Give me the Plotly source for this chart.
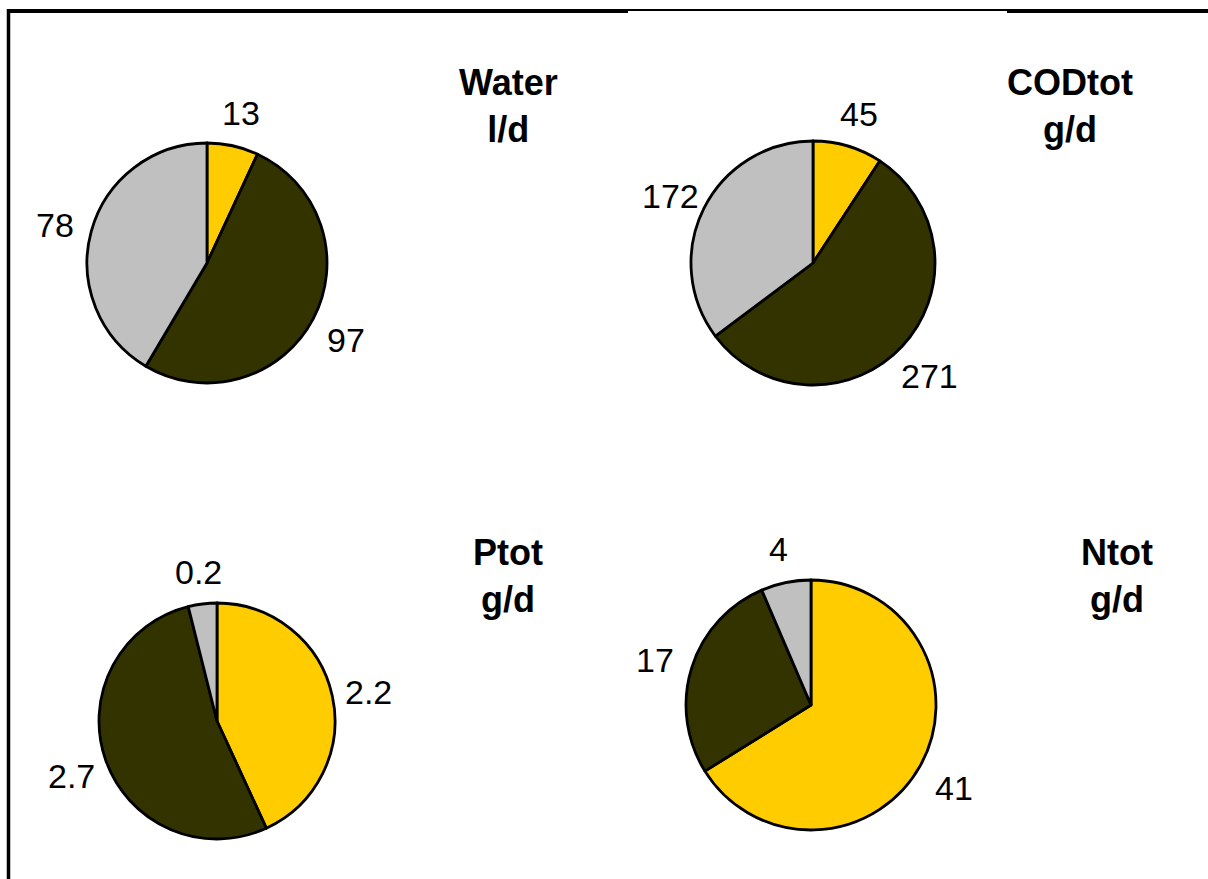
import math
import plotly.graph_objects as go

W, H = 1208, 879

# Flow fractions per parameter: yellow, dark olive, grey
water_vals = [13, 97, 78]
cod_vals = [45, 271, 172]
ptot_vals = [2.2, 2.7, 0.2]
ntot_vals = [41, 17, 4]
value_labels = {
    "water": ["13", "97", "78"],
    "cod": ["45", "271", "172"],
    "ptot": ["2.2", "2.7", "0.2"],
    "ntot": ["41", "17", "4"],
}
titles = {
    "water": "Water<br>l/d",
    "cod": "CODtot<br>g/d",
    "ptot": "Ptot<br>g/d",
    "ntot": "Ntot<br>g/d",
}
colors = ["#FFCC00", "#333300", "#C0C0C0"]

# pie layout: centre (px), radius (px), title centre (px)
panels = [
    ("water", water_vals, (207, 263), 120, (508, 106)),
    ("cod", cod_vals, (813, 263), 122, (1070, 106)),
    ("ptot", ptot_vals, (217, 721), 118, (508, 576)),
    ("ntot", ntot_vals, (811, 705), 125, (1117, 576)),
]

fig = go.Figure()
annotations = []
for key, vals, (cx, cy), r, (tx, ty) in panels:
    fig.add_trace(go.Pie(
        values=vals,
        sort=False,
        direction="clockwise",
        rotation=0,
        textinfo="none",
        hoverinfo="value",
        showlegend=False,
        marker=dict(colors=colors, line=dict(color="black", width=2.8)),
        domain=dict(x=[(cx - r) / W, (cx + r) / W],
                    y=[1 - (cy + r) / H, 1 - (cy - r) / H]),
    ))
    total = sum(vals)
    start = 0.0
    for v, lab in zip(vals, value_labels[key]):
        mid = start + v / total * 360 / 2
        start += v / total * 360
        a = math.radians(mid)
        lx = cx + 1.31 * r * math.sin(a)
        ly = cy - 1.31 * r * math.cos(a) + 4
        annotations.append(dict(
            x=lx / W, y=1 - ly / H, xref="paper", yref="paper",
            text=lab, showarrow=False, xanchor="center", yanchor="middle",
            font=dict(family="Liberation Sans, Arial", size=34, color="black"),
        ))
    annotations.append(dict(
        x=tx / W, y=1 - ty / H, xref="paper", yref="paper",
        text="<b>" + titles[key] + "</b>", showarrow=False,
        xanchor="center", yanchor="middle", align="center",
        font=dict(family="Liberation Sans, Arial", size=36, color="black"),
    ))

# frame lines
shapes = [
    dict(type="line", xref="paper", yref="paper", x0=8.5 / W, x1=8.5 / W,
         y0=0, y1=1 - 9 / H, line=dict(color="black", width=3.5)),
    dict(type="line", xref="paper", yref="paper", x0=7 / W, x1=628 / W,
         y0=1 - 11 / H, y1=1 - 11 / H, line=dict(color="black", width=4)),
    dict(type="line", xref="paper", yref="paper", x0=628 / W, x1=1007 / W,
         y0=1 - 10 / H, y1=1 - 10 / H, line=dict(color="black", width=2)),
    dict(type="line", xref="paper", yref="paper", x0=1007 / W, x1=1,
         y0=1 - 11 / H, y1=1 - 11 / H, line=dict(color="black", width=4)),
]

fig.update_layout(
    width=W, height=H,
    margin=dict(l=0, r=0, t=0, b=0),
    paper_bgcolor="white", plot_bgcolor="white",
    annotations=annotations, shapes=shapes,
)

fig.write_html("out.html")
